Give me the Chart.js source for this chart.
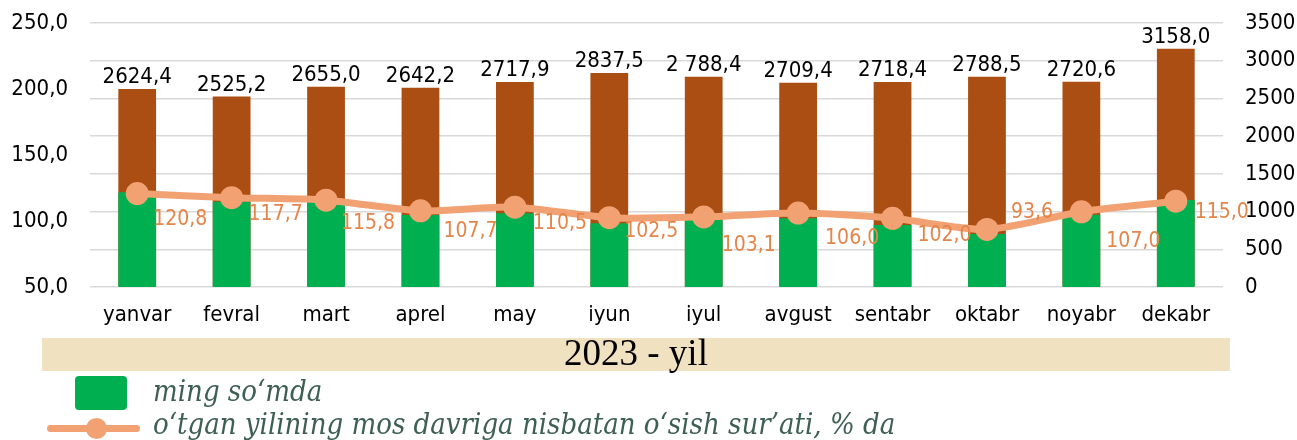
<!DOCTYPE html>
<html>
<head>
<meta charset="utf-8">
<script src="https://cdn.jsdelivr.net/npm/chart.js@4.4.0/dist/chart.umd.min.js"></script>
<style>
html,body{margin:0;padding:0;background:#fff;}
#wrap{position:relative;width:1297px;height:440px;overflow:hidden;}
#c{position:absolute;left:0;top:0;}
.band{position:absolute;left:42px;top:338px;width:1188px;height:33px;background:#F0E1C0;}
.bandtext{position:absolute;left:42px;top:332px;width:1188px;text-align:center;font-family:'Liberation Serif','Times New Roman',serif;font-size:37px;line-height:42px;color:#000;}
.lg{position:absolute;font-family:'DejaVu Serif Condensed','DejaVu Serif',serif;font-stretch:condensed;font-style:italic;font-size:29px;color:#3E5F53;white-space:nowrap;line-height:34px;}
.gbox{position:absolute;left:75px;top:376px;width:52px;height:34px;background:#00B050;border-radius:4px;}
.lline{position:absolute;left:47px;top:425px;width:93px;height:7px;background:#F2A272;border-radius:4px;}
.ldot{position:absolute;left:86px;top:418px;width:21px;height:21px;background:#F2A272;border-radius:50%;}
</style>
</head>
<body>
<div id="wrap">
<canvas id="c" width="1297" height="440"></canvas>
<div class="band"></div>
<div class="bandtext">2023 - yil</div>
<div class="gbox"></div>
<div class="lg" style="left:153px;top:374px;">ming so‘mda</div>
<div class="lline"></div>
<div class="ldot"></div>
<div class="lg" style="left:153px;top:407px;">o‘tgan yilining mos davriga nisbatan o‘sish sur’ati, % da</div>
</div>
<script>
const categories = ['yanvar','fevral','mart','aprel','may','iyun','iyul','avgust','sentabr','oktabr','noyabr','dekabr'];
const amounts = [2624.4, 2525.2, 2655.0, 2642.2, 2717.9, 2837.5, 2788.4, 2709.4, 2718.4, 2788.5, 2720.6, 3158.0];
const amountLabels = ['2624,4','2525,2','2655,0','2642,2','2717,9','2837,5','2 788,4','2709,4','2718,4','2788,5','2720,6','3158,0'];
const growthRate = [120.8, 117.7, 115.8, 107.7, 110.5, 102.5, 103.1, 106.0, 102.0, 93.6, 107.0, 115.0];
const greenBars = [121.7, 114.6, 114.5, 104.5, 105.8, 98.3, 100.8, 102.0, 97.0, 90.2, 104.8, 115.9];
const leftTicks = [50, 100, 150, 200, 250];
const rightTicks = [0, 500, 1000, 1500, 2000, 2500, 3000, 3500];

// label placement (style only)
const rateLabelDx = [43, 44, 42, 50, 45, 42, 45, 54, 52, 45, 52, 46];
const rateLabelDy = [26, 17, 23, 21, 16, 14, 29, 25, 17, -17, 30, 11];

const fmt1 = v => v.toFixed(1).replace('.', ',');

const labelPlugin = {
  id: 'valueLabels',
  afterDatasetsDraw(chart) {
    const ctx = chart.ctx;
    ctx.save();
    const mb = chart.getDatasetMeta(0);
    ctx.font = '22px "DejaVu Sans Condensed", "DejaVu Sans", sans-serif';
    ctx.fillStyle = '#000';
    ctx.textAlign = 'center';
    ctx.textBaseline = 'alphabetic';
    mb.data.forEach((el, i) => {
      ctx.fillText(amountLabels[i], el.x, el.y - 6);
    });
    const ml = chart.getDatasetMeta(2);
    ctx.font = '21px "Liberation Sans Narrow", "DejaVu Sans Condensed", sans-serif';
    ctx.fillStyle = '#E4854A';
    ctx.textBaseline = 'middle';
    ml.data.forEach((el, i) => {
      ctx.fillText(fmt1(growthRate[i]), el.x + rateLabelDx[i], el.y + rateLabelDy[i]);
    });
    ctx.restore();
  }
};

const tickFont = {family: '"DejaVu Sans Condensed", "DejaVu Sans", sans-serif', size: 22};

new Chart(document.getElementById('c'), {
  data: {
    labels: categories,
    datasets: [
      {
        type: 'bar', label: 'amount', data: amounts, yAxisID: 'y1',
        backgroundColor: '#AB4E13', grouped: false, order: 3,
        categoryPercentage: 1, barPercentage: 0.4
      },
      {
        type: 'bar', label: 'ming so‘mda', data: greenBars, yAxisID: 'y',
        backgroundColor: '#00B050', grouped: false, order: 2,
        categoryPercentage: 1, barPercentage: 0.4
      },
      {
        type: 'line', label: 'o‘tgan yilining mos davriga nisbatan o‘sish sur’ati, % da',
        data: growthRate, yAxisID: 'y',
        borderColor: '#F2A272', backgroundColor: '#F2A272', borderWidth: 7,
        pointRadius: 11.5, pointBorderWidth: 0, pointHoverRadius: 11.5,
        tension: 0.25, order: 1, borderCapStyle: 'round'
      }
    ]
  },
  options: {
    responsive: false,
    animation: false,
    devicePixelRatio: 1,
    layout: {padding: {left: 0, right: 0, top: 23, bottom: 103}},
    plugins: {legend: {display: false}, tooltip: {enabled: false}},
    scales: {
      x: {
        grid: {display: false, drawTicks: false},
        border: {display: false},
        ticks: {font: tickFont, color: '#000', padding: 15, maxRotation: 0, autoSkip: false},
        afterFit(s) { s.height = 50; }
      },
      y: {
        position: 'left', min: 50, max: 250,
        grid: {display: false, drawTicks: false},
        border: {display: false},
        afterBuildTicks(s) { s.ticks = leftTicks.map(v => ({value: v})); },
        ticks: {font: tickFont, color: '#000', padding: 22, callback: v => fmt1(v)},
        afterFit(s) { s.width = 90; s.paddingTop = 0; s.paddingBottom = 0; }
      },
      y1: {
        position: 'right', min: 0, max: 3500,
        grid: {color: '#D9D9D9', lineWidth: 1.5, drawTicks: false},
        border: {display: false},
        afterBuildTicks(s) { s.ticks = rightTicks.map(v => ({value: v})); },
        ticks: {font: tickFont, color: '#000', padding: 22, callback: v => String(v)},
        afterFit(s) { s.width = 74; s.paddingTop = 0; s.paddingBottom = 0; }
      }
    }
  },
  plugins: [labelPlugin]
});
</script>
</body>
</html>
